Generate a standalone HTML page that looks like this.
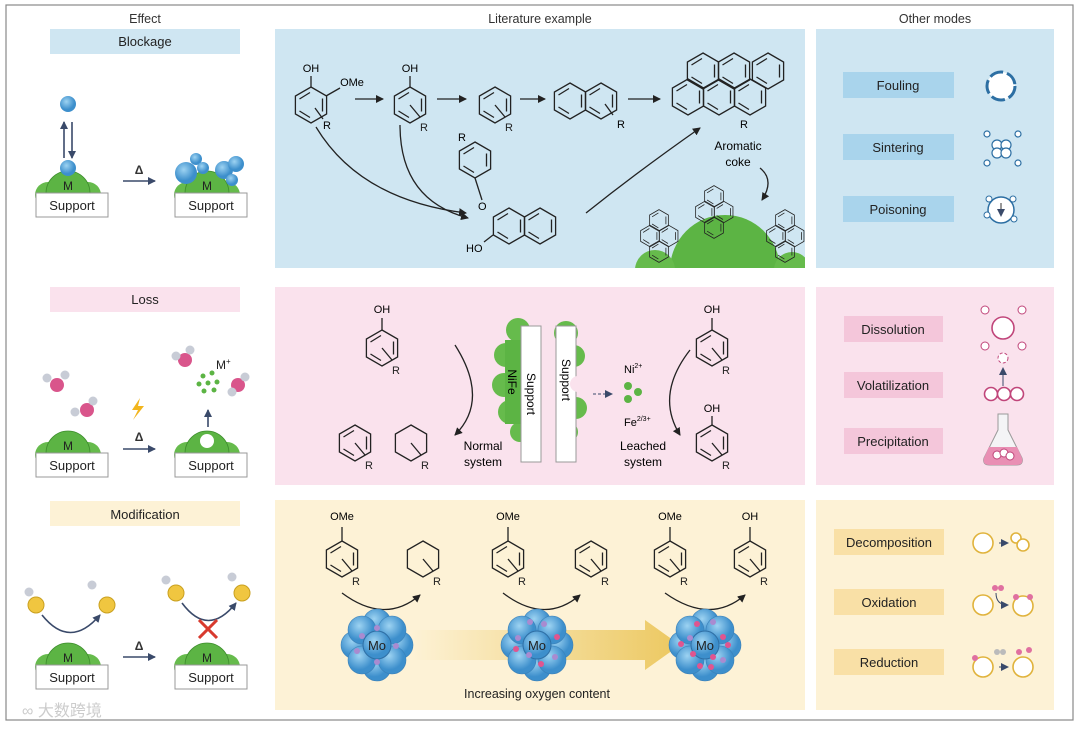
<!DOCTYPE html>
<html><head><meta charset="utf-8"><style>
html,body{margin:0;padding:0;background:#fff}
svg{display:block}
text{font-family:"Liberation Sans",sans-serif}
</style></head><body>
<svg width="1080" height="729" viewBox="0 0 1080 729" xmlns="http://www.w3.org/2000/svg">
<defs>
<marker id="ah" markerWidth="8" markerHeight="8" refX="7" refY="4" orient="auto" markerUnits="userSpaceOnUse"><path d="M0,0 L8,4 L0,8 z" fill="#222"/></marker>
<marker id="ab" markerWidth="8" markerHeight="8" refX="7" refY="4" orient="auto" markerUnits="userSpaceOnUse"><path d="M0,0 L8,4 L0,8 z" fill="#3a4a6a"/></marker>
<clipPath id="p1"><rect x="275" y="29" width="530" height="239"/></clipPath>
<g id="bz" fill="none" stroke="#222" stroke-width="1.3">
<path d="M0,-18 L15.6,-9 L15.6,9 L0,18 L-15.6,9 L-15.6,-9 Z"/>
<path d="M11.5,-6.5 L11.5,6.5 M-11.5,6 L-1,12.5 M-11.5,-6 L-1,-12.5"/>
</g>
<g id="bzr"><use href="#bz"/><path d="M0,0 L10,12" stroke="#222" stroke-width="1.3"/><text x="10" y="26" font-size="11" fill="#222">R</text></g>
<g id="cyr" fill="none" stroke="#222" stroke-width="1.3"><path d="M0,-18 L15.6,-9 L15.6,9 L0,18 L-15.6,9 L-15.6,-9 Z"/><path d="M0,0 L10,12"/><text x="10" y="26" font-size="11" fill="#222" stroke="none">R</text></g>
<g id="sup"><rect x="-36" y="0" width="72" height="24" fill="#fff" stroke="#999"/><text x="0" y="17" font-size="13" text-anchor="middle" fill="#222">Support</text></g>
<g id="dome"><circle cx="-20" cy="2" r="13" fill="#66bb4c"/><circle cx="20" cy="2" r="13" fill="#66bb4c"/><path d="M-22,0 A22,22 0 0 1 22,0 Z" fill="#5cb444" stroke="#3f8f2e" stroke-width="0.8"/></g>
<radialGradient id="bl" cx="40%" cy="35%"><stop offset="0" stop-color="#9dd3f2"/><stop offset="1" stop-color="#3d8fcc"/></radialGradient>
<linearGradient id="yel" x1="0" x2="1"><stop offset="0" stop-color="#fdf2d6"/><stop offset="1" stop-color="#ecc860"/></linearGradient>
<g id="mo"><circle cx="-22" cy="0" r="14" fill="url(#bl)" stroke="#3a80b8" stroke-width=".6"/><circle cx="22" cy="0" r="14" fill="url(#bl)" stroke="#3a80b8" stroke-width=".6"/><circle cx="0" cy="-22" r="14" fill="url(#bl)" stroke="#3a80b8" stroke-width=".6"/><circle cx="0" cy="22" r="14" fill="url(#bl)" stroke="#3a80b8" stroke-width=".6"/><circle cx="-15" cy="-15" r="14" fill="url(#bl)" stroke="#3a80b8" stroke-width=".6"/><circle cx="15" cy="-15" r="14" fill="url(#bl)" stroke="#3a80b8" stroke-width=".6"/><circle cx="-15" cy="15" r="14" fill="url(#bl)" stroke="#3a80b8" stroke-width=".6"/><circle cx="15" cy="15" r="14" fill="url(#bl)" stroke="#3a80b8" stroke-width=".6"/><circle cx="0" cy="0" r="14" fill="url(#bl)" stroke="#2f6fa5"/><text x="0" y="5" font-size="13" text-anchor="middle" fill="#222">Mo</text></g>
</defs>
<rect x="6" y="5" width="1067" height="715" fill="#fff" stroke="#888" stroke-width="1.2"/>
<text x="145" y="23" font-size="12.5" text-anchor="middle" fill="#333">Effect</text>
<text x="540" y="23" font-size="12.5" text-anchor="middle" fill="#333">Literature example</text>
<text x="935" y="23" font-size="12.5" text-anchor="middle" fill="#333">Other modes</text>
<rect x="275" y="29" width="530" height="239" fill="#cfe6f2"/>
<rect x="816" y="29" width="238" height="239" fill="#cfe6f2"/>
<rect x="275" y="287" width="530" height="198" fill="#fae2ed"/>
<rect x="816" y="287" width="238" height="198" fill="#fae2ed"/>
<rect x="275" y="500" width="530" height="210" fill="#fdf2d6"/>
<rect x="816" y="500" width="238" height="210" fill="#fdf2d6"/>
<rect x="50" y="29" width="190" height="25" fill="#cfe6f2"/><text x="145" y="46" font-size="13" text-anchor="middle" fill="#222">Blockage</text>
<rect x="50" y="287" width="190" height="25" fill="#fae2ed"/><text x="145" y="304" font-size="13" text-anchor="middle" fill="#222">Loss</text>
<rect x="50" y="501" width="190" height="25" fill="#fdf2d6"/><text x="145" y="519" font-size="13" text-anchor="middle" fill="#222">Modification</text>
<rect x="843" y="72" width="111" height="26" fill="#a9d4ec"/><text x="898" y="90" font-size="13" text-anchor="middle" fill="#222">Fouling</text>
<rect x="843" y="134" width="111" height="26" fill="#a9d4ec"/><text x="898" y="152" font-size="13" text-anchor="middle" fill="#222">Sintering</text>
<rect x="843" y="196" width="111" height="26" fill="#a9d4ec"/><text x="898" y="214" font-size="13" text-anchor="middle" fill="#222">Poisoning</text>
<rect x="844" y="316" width="99" height="26" fill="#f4c6da"/><text x="893" y="334" font-size="13" text-anchor="middle" fill="#222">Dissolution</text>
<rect x="844" y="372" width="99" height="26" fill="#f4c6da"/><text x="893" y="390" font-size="13" text-anchor="middle" fill="#222">Volatilization</text>
<rect x="844" y="428" width="99" height="26" fill="#f4c6da"/><text x="893" y="446" font-size="13" text-anchor="middle" fill="#222">Precipitation</text>
<rect x="834" y="529" width="110" height="26" fill="#f9e0a6"/><text x="889" y="547" font-size="13" text-anchor="middle" fill="#222">Decomposition</text>
<rect x="834" y="589" width="110" height="26" fill="#f9e0a6"/><text x="889" y="607" font-size="13" text-anchor="middle" fill="#222">Oxidation</text>
<rect x="834" y="649" width="110" height="26" fill="#f9e0a6"/><text x="889" y="667" font-size="13" text-anchor="middle" fill="#222">Reduction</text>
<circle cx="1001" cy="86" r="14" fill="#fff" stroke="#2d6fa3" stroke-width="3" stroke-dasharray="14 4"/>
<g fill="#fff" stroke="#2d6fa3" stroke-width="1.2"><circle cx="997" cy="145" r="5"/><circle cx="1006" cy="145" r="5"/><circle cx="997" cy="153" r="5"/><circle cx="1006" cy="153" r="5"/><circle cx="987" cy="134" r="3"/><circle cx="1018" cy="134" r="3"/><circle cx="987" cy="163" r="3"/><circle cx="1018" cy="163" r="3"/></g>
<circle cx="1001" cy="210" r="13" fill="#fff" stroke="#2d6fa3" stroke-width="1.5"/><path d="M1001,203 L1001,216" stroke="#333" marker-end="url(#ab)"/>
<g fill="#fff" stroke="#2d6fa3"><circle cx="989" cy="199" r="3"/><circle cx="1013" cy="199" r="3"/><circle cx="987" cy="215" r="3"/><circle cx="1014" cy="219" r="3"/></g>
<circle cx="1003" cy="328" r="11" fill="#fff" stroke="#c0457a" stroke-width="1.6"/>
<g fill="#fff" stroke="#c0457a"><circle cx="985" cy="310" r="4"/><circle cx="1022" cy="310" r="4"/><circle cx="985" cy="346" r="4"/><circle cx="1022" cy="346" r="4"/></g>
<circle cx="1003" cy="358" r="5" fill="#fff" stroke="#c0457a" stroke-dasharray="3 2"/>
<path d="M1003,386 L1003,368" stroke="#3a4a6a" marker-end="url(#ab)"/>
<g fill="#fff" stroke="#c0457a" stroke-width="1.6"><circle cx="991" cy="394" r="6.5"/><circle cx="1004" cy="394" r="6.5"/><circle cx="1017" cy="394" r="6.5"/></g>
<path d="M998,414 L1008,414 L1008,430 L1022,458 Q1024,465 1016,465 L990,465 Q982,465 984,458 L998,430 Z" fill="#f4f4f6" stroke="#999"/>
<path d="M989,447 L1017,447 L1022,458 Q1024,465 1016,465 L990,465 Q982,465 984,458 Z" fill="#e98fb4"/>
<g fill="#fff" stroke="#c0457a"><circle cx="997" cy="455" r="4"/><circle cx="1004" cy="453" r="4"/><circle cx="1010" cy="456" r="4"/></g>
<g fill="#fff" stroke="#e0b33c" stroke-width="1.6"><circle cx="983" cy="543" r="10"/><circle cx="1016" cy="538" r="5"/><circle cx="1023" cy="545" r="6"/>
<circle cx="983" cy="605" r="10"/><circle cx="1023" cy="606" r="10"/><circle cx="983" cy="667" r="10"/><circle cx="1023" cy="667" r="10"/></g>
<g fill="#e070a0"><circle cx="995" cy="588" r="3"/><circle cx="1001" cy="588" r="3"/><circle cx="1016" cy="597" r="3"/><circle cx="1030" cy="597" r="3"/><circle cx="975" cy="658" r="3"/><circle cx="1019" cy="652" r="3"/><circle cx="1029" cy="650" r="3"/></g>
<g fill="#bbb"><circle cx="997" cy="652" r="3"/><circle cx="1003" cy="652" r="3"/></g>
<path d="M996,593 Q996,605 1008,605" fill="none" stroke="#3a4a6a" marker-end="url(#ab)"/>
<path d="M999,543 L1008,543" stroke="#3a4a6a" marker-end="url(#ab)"/>
<path d="M999,667 L1008,667" stroke="#3a4a6a" marker-end="url(#ab)"/>

<g fill="none" stroke="#3a4a6a" stroke-width="1.6"><path d="M64,158 L64,122" marker-end="url(#ab)"/><path d="M72,122 L72,158" marker-end="url(#ab)"/>
<path d="M123,181 L155,181" marker-end="url(#ab)"/><path d="M123,449 L155,449" marker-end="url(#ab)"/><path d="M123,657 L155,657" marker-end="url(#ab)"/>
<path d="M208,427 L208,410" marker-end="url(#ab)"/></g>
<text x="139" y="174" font-size="12" text-anchor="middle" font-weight="bold" fill="#333">Δ</text>
<text x="139" y="441" font-size="12" text-anchor="middle" font-weight="bold" fill="#333">Δ</text>
<text x="139" y="650" font-size="12" text-anchor="middle" font-weight="bold" fill="#333">Δ</text>
<circle cx="68" cy="104" r="8" fill="url(#bl)"/>
<use href="#dome" x="68" y="193"/><use href="#sup" x="72" y="193"/><circle cx="68" cy="168" r="8" fill="url(#bl)"/><text x="68" y="190" font-size="12" text-anchor="middle" fill="#222">M</text>
<use href="#dome" x="207" y="193"/><use href="#sup" x="211" y="193"/>
<g fill="url(#bl)"><circle cx="186" cy="173" r="11"/><circle cx="196" cy="159" r="6"/><circle cx="203" cy="168" r="6"/><circle cx="224" cy="170" r="9"/><circle cx="236" cy="164" r="8"/><circle cx="232" cy="180" r="6"/></g>
<text x="207" y="190" font-size="12" text-anchor="middle" fill="#222">M</text>
<use href="#dome" x="68" y="453"/><use href="#sup" x="72" y="453"/><text x="68" y="450" font-size="12" text-anchor="middle" fill="#222">M</text>
<use href="#dome" x="207" y="453"/><use href="#sup" x="211" y="453"/><circle cx="207" cy="441" r="7" fill="#fff"/>
<g fill="#d9558b"><circle cx="57" cy="385" r="7"/><circle cx="87" cy="410" r="7"/><circle cx="185" cy="360" r="7"/><circle cx="238" cy="385" r="7"/></g>
<g fill="#c8ccd6"><circle cx="47" cy="378" r="4.5"/><circle cx="65" cy="375" r="4.5"/><circle cx="75" cy="412" r="4.5"/><circle cx="93" cy="401" r="4.5"/><circle cx="176" cy="356" r="4.5"/><circle cx="190" cy="350" r="4.5"/><circle cx="232" cy="392" r="4.5"/><circle cx="245" cy="377" r="4.5"/></g>
<g fill="#5cb444"><circle cx="203" cy="376" r="2.5"/><circle cx="212" cy="373" r="2.5"/><circle cx="199" cy="384" r="2.5"/><circle cx="208" cy="383" r="2.5"/><circle cx="217" cy="382" r="2.5"/><circle cx="204" cy="391" r="2.5"/><circle cx="214" cy="390" r="2.5"/></g>
<text x="216" y="369" font-size="12" fill="#222">M<tspan font-size="8" dy="-5">+</tspan></text>
<path d="M140,398 L132,410 L138,410 L133,420 L144,406 L138,406 Z" fill="#f2b51c"/>
<use href="#dome" x="68" y="665"/><use href="#sup" x="72" y="665"/><text x="68" y="662" font-size="12" text-anchor="middle" fill="#222">M</text>
<use href="#dome" x="207" y="665"/><use href="#sup" x="211" y="665"/><text x="207" y="662" font-size="12" text-anchor="middle" fill="#222">M</text>
<g fill="#f0c640" stroke="#c9a020"><circle cx="36" cy="605" r="8"/><circle cx="107" cy="605" r="8"/><circle cx="176" cy="593" r="8"/><circle cx="242" cy="593" r="8"/></g>
<g fill="#c8ccd6"><circle cx="29" cy="592" r="4.5"/><circle cx="92" cy="585" r="4.5"/><circle cx="166" cy="580" r="4.5"/><circle cx="232" cy="577" r="4.5"/></g>
<path d="M42,615 Q70,650 100,615" fill="none" stroke="#3a4a6a" stroke-width="1.6" marker-end="url(#ab)"/>
<path d="M182,603 Q208,638 236,603" fill="none" stroke="#3a4a6a" stroke-width="1.6" marker-end="url(#ab)"/>
<path d="M199,620 L217,638 M217,620 L199,638" stroke="#d83a2e" stroke-width="3"/>

<use href="#bz" x="311" y="105"/><path d="M311,87 L311,76 M326,96 L340,88" stroke="#222" stroke-width="1.3"/><text x="311" y="72" font-size="11" text-anchor="middle">OH</text><text x="352" y="86" font-size="11" text-anchor="middle">OMe</text><path d="M315,108 L323,119" stroke="#222" stroke-width="1.3"/><text x="323" y="129" font-size="11">R</text>
<use href="#bzr" x="410" y="105"/><path d="M410,87 L410,76" stroke="#222" stroke-width="1.3"/><text x="410" y="72" font-size="11" text-anchor="middle">OH</text>
<use href="#bzr" x="495" y="105"/>
<use href="#bz" x="570" y="101"/><use href="#bz" x="601" y="101"/><path d="M605,104 L613,115" stroke="#222" stroke-width="1.3"/><text x="617" y="128" font-size="11">R</text>
<g stroke="#222" fill="none" stroke-width="1.3"><path d="M355,99 L383,99" marker-end="url(#ah)"/><path d="M437,99 L466,99" marker-end="url(#ah)"/><path d="M520,99 L545,99" marker-end="url(#ah)"/><path d="M628,99 L660,99" marker-end="url(#ah)"/>
<path d="M316,127 Q360,200 466,213" marker-end="url(#ah)"/><path d="M400,125 Q400,200 468,218" marker-end="url(#ah)"/>
<path d="M586,213 Q640,170 700,128" marker-end="url(#ah)"/><path d="M760,168 Q775,180 762,200" marker-end="url(#ah)"/></g>
<use href="#bz" x="703" y="71"/><use href="#bz" x="734" y="71"/><use href="#bz" x="688" y="97"/><use href="#bz" x="719" y="97"/><use href="#bz" x="750" y="97"/><use href="#bz" x="768" y="71"/>
<text x="740" y="128" font-size="11">R</text>
<text x="738" y="150" font-size="12" text-anchor="middle">Aromatic</text><text x="738" y="166" font-size="12" text-anchor="middle">coke</text>
<use href="#bz" x="475" y="160"/><text x="458" y="141" font-size="11">R</text><path d="M475,178 L482,200" stroke="#222" stroke-width="1.3"/><text x="478" y="210" font-size="11">O</text>
<use href="#bz" x="509" y="226"/><use href="#bz" x="540" y="226"/><path d="M493,235 L484,242" stroke="#222" stroke-width="1.3"/><text x="466" y="252" font-size="11">HO</text>
<g clip-path="url(#p1)">
<path d="M670,270 A55,55 0 0 1 780,270 Z" fill="#5cb444"/><circle cx="655" cy="270" r="20" fill="#66bb4c"/><circle cx="792" cy="270" r="18" fill="#66bb4c"/>
<g transform="translate(650,236) scale(.6)"><use href="#bz" x="0" y="0"/><use href="#bz" x="31" y="0"/><use href="#bz" x="15" y="-26"/><use href="#bz" x="15" y="26"/></g>
<g transform="translate(705,212) scale(.6)"><use href="#bz" x="0" y="0"/><use href="#bz" x="31" y="0"/><use href="#bz" x="15" y="-26"/><use href="#bz" x="15" y="26"/></g>
<g transform="translate(776,236) scale(.6)"><use href="#bz" x="0" y="0"/><use href="#bz" x="31" y="0"/><use href="#bz" x="15" y="-26"/><use href="#bz" x="15" y="26"/></g>
</g>

<use href="#bzr" x="382" y="348"/><path d="M382,330 L382,318" stroke="#222" stroke-width="1.3"/><text x="382" y="313" font-size="11" text-anchor="middle">OH</text>
<use href="#bzr" x="355" y="443"/><use href="#cyr" x="411" y="443"/>
<use href="#bzr" x="712" y="348"/><path d="M712,330 L712,318" stroke="#222" stroke-width="1.3"/><text x="712" y="313" font-size="11" text-anchor="middle">OH</text>
<use href="#bzr" x="712" y="443"/><path d="M712,425 L712,416" stroke="#222" stroke-width="1.3"/><text x="712" y="412" font-size="11" text-anchor="middle">OH</text>
<g stroke="#222" fill="none" stroke-width="1.3"><path d="M455,345 Q490,400 455,435" marker-end="url(#ah)"/><path d="M690,350 Q655,395 680,435" marker-end="url(#ah)"/></g>
<text x="483" y="450" font-size="12" text-anchor="middle">Normal</text><text x="483" y="466" font-size="12" text-anchor="middle">system</text>
<text x="643" y="450" font-size="12" text-anchor="middle">Leached</text><text x="643" y="466" font-size="12" text-anchor="middle">system</text>
<g fill="#66bb4c"><circle cx="518" cy="330" r="12"/><circle cx="506" cy="355" r="12"/><circle cx="504" cy="385" r="12"/><circle cx="510" cy="412" r="12"/><circle cx="520" cy="432" r="10"/><circle cx="566" cy="333" r="12"/><circle cx="574" cy="356" r="11"/><circle cx="576" cy="408" r="11"/><circle cx="568" cy="432" r="10"/></g>
<rect x="505" y="340" width="20" height="84" fill="#5cb444"/>
<rect x="521" y="326" width="20" height="136" fill="#fff" stroke="#999"/><rect x="556" y="326" width="20" height="136" fill="#fff" stroke="#999"/>
<circle cx="578" cy="384" r="8" fill="#fae2ed"/>
<text transform="translate(508,382) rotate(90)" font-size="12" text-anchor="middle">NiFe</text>
<text transform="translate(527,394) rotate(90)" font-size="12" text-anchor="middle">Support</text>
<text transform="translate(562,380) rotate(90)" font-size="12" text-anchor="middle">Support</text>
<path d="M593,394 L612,394" stroke="#3a4a6a" stroke-dasharray="3 2" marker-end="url(#ab)"/>
<text x="624" y="373" font-size="11">Ni<tspan font-size="7" dy="-5">2+</tspan></text>
<text x="624" y="426" font-size="11">Fe<tspan font-size="7" dy="-5">2/3+</tspan></text>
<g fill="#5cb444"><circle cx="628" cy="386" r="4"/><circle cx="638" cy="392" r="4"/><circle cx="628" cy="399" r="4"/></g>

<path d="M410,630 L645,630 L645,620 L680,645 L645,670 L645,660 L410,660 Z" fill="url(#yel)"/>
<use href="#bzr" x="342" y="559"/><path d="M342,541 L342,527" stroke="#222" stroke-width="1.3"/><text x="342" y="520" font-size="11" text-anchor="middle">OMe</text>
<use href="#cyr" x="423" y="559"/>
<use href="#bzr" x="508" y="559"/><path d="M508,541 L508,527" stroke="#222" stroke-width="1.3"/><text x="508" y="520" font-size="11" text-anchor="middle">OMe</text>
<use href="#bzr" x="591" y="559"/>
<use href="#bzr" x="670" y="559"/><path d="M670,541 L670,527" stroke="#222" stroke-width="1.3"/><text x="670" y="520" font-size="11" text-anchor="middle">OMe</text>
<use href="#bzr" x="750" y="559"/><path d="M750,541 L750,527" stroke="#222" stroke-width="1.3"/><text x="750" y="520" font-size="11" text-anchor="middle">OH</text>
<g stroke="#222" fill="none" stroke-width="1.3"><path d="M342,593 Q385,625 420,595" marker-end="url(#ah)"/><path d="M503,593 Q545,625 580,595" marker-end="url(#ah)"/><path d="M665,593 Q710,625 745,595" marker-end="url(#ah)"/></g>
<use href="#mo" x="377" y="645"/><use href="#mo" x="537" y="645"/><use href="#mo" x="705" y="645"/>
<g fill="#a98bd0"><circle cx="377" cy="628" r="3"/><circle cx="362" cy="636" r="3"/><circle cx="396" cy="646" r="3"/><circle cx="357" cy="651" r="3"/><circle cx="377" cy="662" r="3"/>
<circle cx="530" cy="622" r="3"/><circle cx="544" cy="624" r="3"/><circle cx="518" cy="638" r="3"/><circle cx="555" cy="657" r="3"/><circle cx="529" cy="655" r="3"/>
<circle cx="690" cy="638" r="3"/><circle cx="713" cy="622" r="3"/><circle cx="723" cy="660" r="3"/></g>
<g fill="#e0558f"><circle cx="557" cy="637" r="3"/><circle cx="516" cy="649" r="3"/><circle cx="541" cy="664" r="3"/>
<circle cx="697" cy="624" r="3"/><circle cx="723" cy="637" r="3"/><circle cx="728" cy="645" r="3"/><circle cx="681" cy="644" r="3"/><circle cx="693" cy="654" r="3"/><circle cx="713" cy="657" r="3"/><circle cx="700" cy="666" r="3"/><circle cx="711" cy="667" r="3"/></g>
<text x="537" y="698" font-size="12.5" text-anchor="middle" fill="#222">Increasing oxygen content</text>
<text x="22" y="716" font-size="16" fill="#ccc" font-family="'Liberation Sans','Noto Sans CJK SC',sans-serif">∞ 大数跨境</text>
</svg>
</body></html>
